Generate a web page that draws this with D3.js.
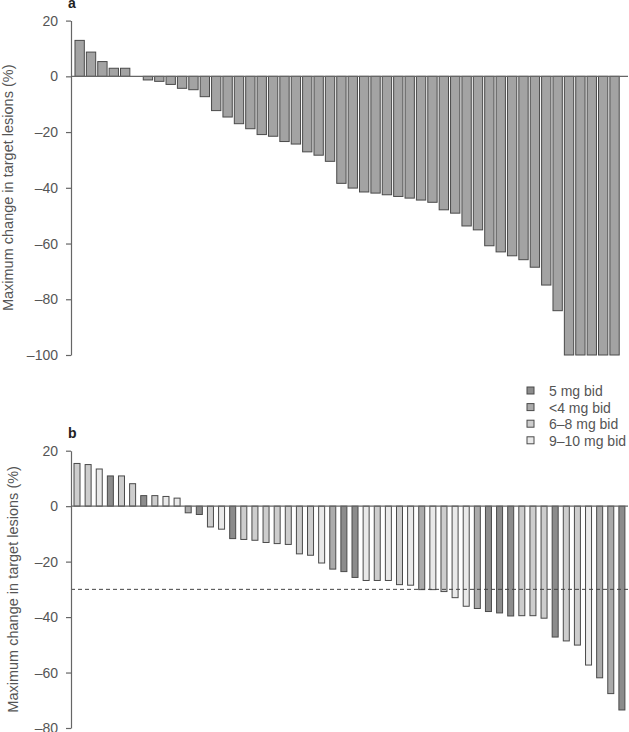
<!DOCTYPE html>
<html><head><meta charset="utf-8">
<script src="https://cdn.jsdelivr.net/npm/d3@7"></script>
<style>
body{margin:0;background:#fff}
text{font-family:"Liberation Sans",Arial,Helvetica,sans-serif}
</style>
</head><body>
<svg id="chart" width="629" height="732"></svg>
<script>
// ---- data ----
const valuesA = [12.9, 8.7, 5.3, 2.9, 2.9, 0,
  -1.3, -1.8, -2.9, -4.3, -4.8, -7.3, -12.3, -14.6, -17.0, -18.8, -20.9, -21.5, -23.4, -24.3, -27.1, -28.3,
  -30.5, -38.4, -40.1, -41.5, -41.9, -42.5, -43.1, -43.7, -44.4, -45.2, -47.9, -49.1, -53.7, -55.1,
  -60.8, -63.0, -64.4, -65.8, -68.5, -74.9, -84.1, -100, -100, -100, -100, -100];

const valuesB = [15.4, 15.0, 13.4, 10.9, 10.9, 8.1, 3.8, 3.8, 3.5, 2.9,
  -2.4, -3.0, -7.5, -8.3, -11.7, -12.0, -12.3, -13.1, -13.5, -13.8,
  -17.2, -17.7, -20.5, -22.7, -23.6, -25.7, -26.8, -26.8, -26.8, -28.3,
  -28.5, -30.1, -30.1, -30.8, -33.0, -36.1, -36.9, -38.0, -38.5, -39.6,
  -39.5, -39.5, -40.4, -47.2, -48.6, -50.1, -57.3, -61.9, -67.6, -73.5];

const dosesB = ["6-8","6-8","9-10","5","6-8","6-8","5","6-8","9-10","9-10",
  "<4","5","6-8","9-10","5","6-8","6-8","6-8","6-8","6-8",
  "6-8","6-8","9-10","<4","5","5","9-10","6-8","9-10","6-8",
  "9-10","<4","9-10","6-8","9-10","9-10","<4","5","5","5",
  "6-8","6-8","6-8","5","6-8","6-8","9-10","<4","<4","5"];

const doseKeys = ["5", "<4", "6-8", "9-10"];
const doseLabels = ["5 mg bid", "<4 mg bid", "6–8 mg bid", "9–10 mg bid"];
const ticksA = [20, 0, -20, -40, -60, -80, -100];
const ticksB = [20, 0, -20, -40, -60, -80];
const yLabel = "Maximum change in target lesions (%)";
const threshold = -30;

// ---- styles ----
const doseColor = d3.scaleOrdinal().domain(doseKeys).range(["#8c8c8c", "#ababab", "#cdcdcd", "#e9e9e9"]);
const axisCol = "#666";
const textCol = "#555";
const fmt = d => d < 0 ? "–" + Math.abs(d) : String(d);

const svg = d3.select("#chart");

function panel(opts) {
  const g = svg.append("g");
  const x = d3.scaleBand().domain(d3.range(opts.values.length))
    .range(opts.xr).paddingInner(opts.pi).paddingOuter(opts.po);
  const y = d3.scaleLinear().domain(opts.dom).range(opts.yr);

  g.selectAll("rect.bar").data(opts.values).join("rect")
    .attr("class", "bar")
    .attr("x", (d, i) => x(i))
    .attr("width", x.bandwidth())
    .attr("y", d => Math.min(y(d), y(0)))
    .attr("height", d => Math.abs(y(d) - y(0)))
    .attr("fill", (d, i) => opts.fill(i))
    .attr("stroke", "#4a4a4a")
    .attr("stroke-width", 1);

  // zero line
  g.append("line").attr("x1", opts.axisX).attr("x2", opts.lineEnd)
    .attr("y1", y(0)).attr("y2", y(0)).attr("stroke", axisCol).attr("stroke-width", 1.2);

  if (opts.threshold !== undefined) {
    g.append("line").attr("x1", opts.axisX).attr("x2", opts.lineEnd)
      .attr("y1", y(opts.threshold)).attr("y2", y(opts.threshold))
      .attr("stroke", "#444").attr("stroke-width", 1).attr("stroke-dasharray", "4,3");
  }

  const ax = g.append("g").attr("transform", `translate(${opts.axisX},0)`)
    .call(d3.axisLeft(y).tickValues(opts.ticks).tickFormat(fmt).tickSize(5).tickSizeOuter(0).tickPadding(8));
  ax.select(".domain").attr("stroke", axisCol).attr("stroke-width", 1.2);
  ax.selectAll(".tick line").attr("stroke", axisCol).attr("stroke-width", 1.2);
  ax.selectAll(".tick text").attr("fill", textCol).style("font-size", "14px")
    .style("font-family", '"Liberation Sans",Arial,sans-serif');

  const mid = (opts.yr[0] + opts.yr[1]) / 2;
  g.append("text").attr("transform", `translate(${opts.labelX},${mid}) rotate(-90)`)
    .attr("text-anchor", "middle").attr("fill", textCol).style("font-size", "14.5px")
    .text(yLabel);

  g.append("text").attr("x", 68).attr("y", opts.letterY).attr("fill", "#222")
    .style("font-size", "14px").style("font-weight", "bold").text(opts.letter);
  return {x, y};
}

panel({values: valuesA, xr: [71, 623.2], pi: 0.18, po: 0.35, dom: [-100, 20], yr: [355, 20.6],
  fill: () => "#a3a3a3", ticks: ticksA, axisX: 71, lineEnd: 628, labelX: 13, letter: "a", letterY: 8});

panel({values: valuesB, xr: [71, 627.9], pi: 0.46, po: 0.27, dom: [-80, 20], yr: [728, 450.7],
  fill: i => doseColor(dosesB[i]), ticks: ticksB, axisX: 71, lineEnd: 628, labelX: 18, letter: "b", letterY: 438,
  threshold: threshold});

// legend
const leg = svg.append("g").attr("transform", "translate(527,396)");
const rows = leg.selectAll("g").data(doseKeys).join("g")
  .attr("transform", (d, i) => `translate(0,${i * 16.6})`);
rows.append("rect").attr("x", 0).attr("y", -9).attr("width", 7).attr("height", 7)
  .attr("fill", d => doseColor(d)).attr("stroke", "#4a4a4a").attr("stroke-width", 1);
rows.append("text").attr("x", 22).attr("y", 0).attr("fill", textCol).style("font-size", "14px")
  .text((d, i) => doseLabels[i]);
</script>
</body></html>
